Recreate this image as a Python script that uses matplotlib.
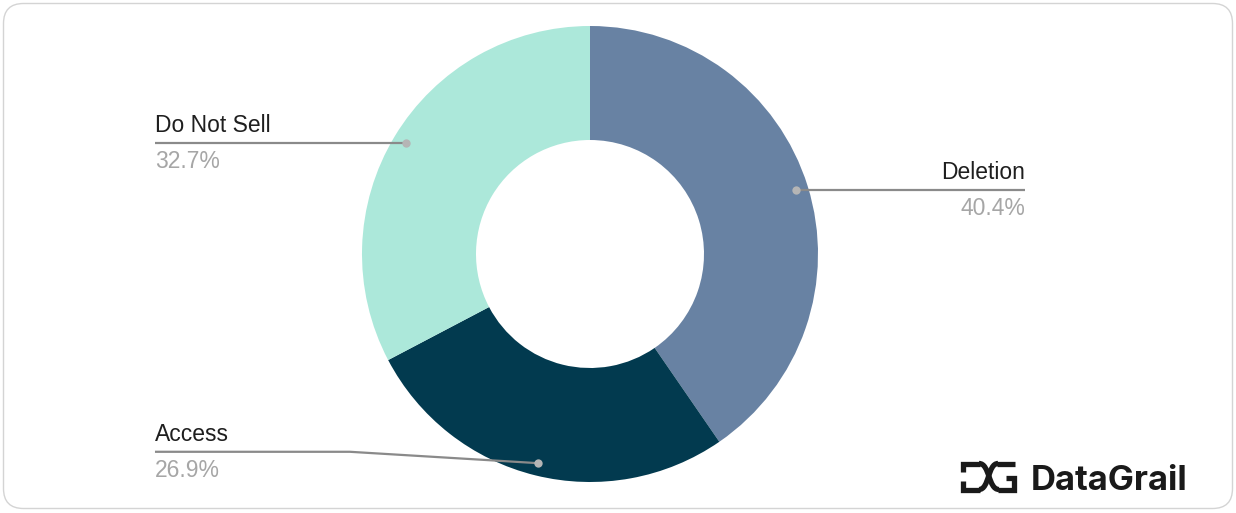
import numpy as np
import matplotlib
matplotlib.use("Agg")
import matplotlib.pyplot as plt
from matplotlib.patches import FancyBboxPatch, PathPatch
from matplotlib.path import Path

plt.rcParams['font.family'] = ['Liberation Sans', 'DejaVu Sans']

# data
labels = ['Deletion', 'Access', 'Do Not Sell']
values = [40.4, 26.9, 32.7]
colors = ['#6882a3', '#023a4f', '#ace8da']

# label placement (pie data units): side and vertical nudge of the label line
label_side = [1, -1, -1]
label_dy = [0.0, 0.05, 0.0]
label_x = 1.908
elbow_x = 1.053
dot_r = 0.945

W, H = 1236, 513
fig = plt.figure(figsize=(W / 100, H / 100), dpi=100)

# rounded card border
bg = fig.add_axes([0, 0, 1, 1])
bg.set_xlim(0, W)
bg.set_ylim(H, 0)
bg.axis('off')
bg.add_patch(FancyBboxPatch((3.5, 3.5), W - 7, H - 8, boxstyle="round,pad=0,rounding_size=20",
                            facecolor='white', edgecolor='#d4d4d4', linewidth=1.0))

# donut
cx, cy, R = 590, 254, 228
ax = fig.add_axes([(cx - R) / W, (H - cy - R) / H, 2 * R / W, 2 * R / H])
wedges, _ = ax.pie(values, colors=colors, startangle=90, counterclock=False,
                   radius=1.0, wedgeprops=dict(width=0.5, linewidth=0))
ax.set_xlim(-1, 1)
ax.set_ylim(-1, 1)
ax.set_aspect('equal')
ax.axis('off')

for w, lab, val, side, dy in zip(wedges, labels, values, label_side, label_dy):
    mid = np.deg2rad((w.theta1 + w.theta2) / 2)
    px, py = dot_r * np.cos(mid), dot_r * np.sin(mid)
    ly = py + dy
    tx = side * label_x
    if dy != 0:
        xs = [px, side * elbow_x, tx]
        ys = [py, ly, ly]
    else:
        xs = [px, tx]
        ys = [py, ly]
    ax.plot(xs, ys, color='#8a8a8a', lw=1.6, clip_on=False, solid_capstyle='butt')
    ax.plot([px], [py], 'o', color='#b5b5b5', ms=6, mec='none', clip_on=False)
    ha = 'left' if side < 0 else 'right'
    ax.annotate(lab, (tx, ly), xytext=(0, 4), textcoords='offset points',
                ha=ha, va='bottom', fontsize=16.5, color='#1f1f1f', annotation_clip=False)
    ax.annotate(f'{val:.1f}%', (tx, ly), xytext=(0, -5), textcoords='offset points',
                ha=ha, va='top', fontsize=16.5, color='#a6a6a6', annotation_clip=False)

# DataGrail logo
lw = 3.8
k = '#1a1a1a'
segs = [
    [(963, 472), (963, 463.5), (980, 463.5)],
    [(963, 481), (963, 489.5), (980, 489.5)],
    [(997, 463.5), (1015, 463.5)],
    [(998, 489.5), (1013.5, 489.5), (1013.5, 478), (1006, 478)],
]
for s in segs:
    xs, ys = zip(*s)
    bg.plot(xs, ys, color=k, lw=lw, solid_joinstyle='miter', solid_capstyle='butt')
for p0, p3 in [((979, 463.5), (999, 489.5)), ((998, 463.5), (979, 489.5))]:
    verts = [p0, (p0[0] + (p3[0] - p0[0]) * 0.55, p0[1]), (p3[0] - (p3[0] - p0[0]) * 0.55, p3[1]), p3]
    path = Path(verts, [Path.MOVETO, Path.CURVE4, Path.CURVE4, Path.CURVE4])
    bg.add_patch(PathPatch(path, facecolor='none', edgecolor=k, lw=lw, capstyle='butt'))
bg.text(1031, 490, 'DataGrail', fontsize=25, fontweight='bold', color=k,
        family=['Inter', 'DejaVu Sans'], ha='left', va='baseline')

fig.savefig('out.png', dpi=100, facecolor='white')
